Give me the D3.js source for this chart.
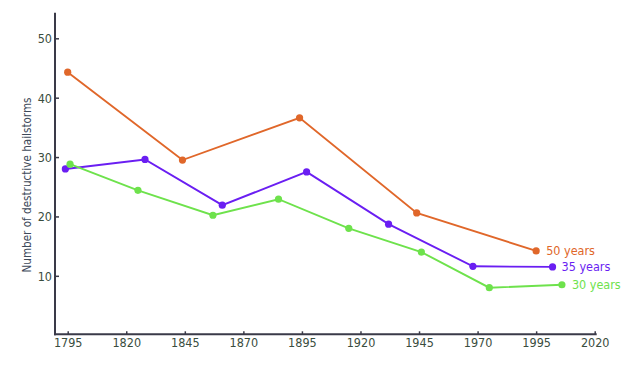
<!DOCTYPE html>
<html><head><meta charset="utf-8">
<script src="https://cdn.jsdelivr.net/npm/d3@7"></script>
<style>body{margin:0;background:#fff}svg{display:block}text{font-family:"DejaVu Sans Condensed","DejaVu Sans",sans-serif}</style>
</head><body>
<svg id="c" width="636" height="370"></svg>
<script>
const xTicks = [1795,1820,1845,1870,1895,1920,1945,1970,1995,2020];
const yTicks = [10,20,30,40,50];
const years50 = [1795,1844,1894,1944,1995];
const vals50  = [44.3,29.5,36.6,20.6,14.2];
const years35 = [1794,1828,1861,1897,1932,1968,2002];
const vals35  = [28.0,29.6,21.9,27.5,18.7,11.6,11.5];
const years30 = [1796,1825,1857,1885,1915,1946,1975,2006];
const vals30  = [28.8,24.4,20.2,22.9,18.0,14.0,8.0,8.5];
const seriesNames = ["50 years","35 years","30 years"];
const colors = ["#e0672a","#6a1ef2","#6ee24c"];

const svg = d3.select("#c");
const x = d3.scaleLinear().domain([1795,2020]).range([67.7,594.7]);
const y = d3.scaleLinear().domain([0,50]).range([335.2,38.3]);
const axisCol = "#3a3a48", textCol = "#3a4d3e";

const yAx = svg.append("g").attr("transform","translate(55,0)")
  .call(d3.axisLeft(y).tickValues(yTicks).tickSize(-4).tickPadding(6).tickFormat(d3.format("d")));
yAx.select(".domain").remove();
const xAx = svg.append("g").attr("transform","translate(0,334.3)")
  .call(d3.axisBottom(x).tickValues(xTicks).tickSize(-3).tickPadding(5).tickFormat(d3.format("d")));
xAx.select(".domain").remove();
[yAx,xAx].forEach(g=>{
  g.selectAll("line").attr("stroke",axisCol).attr("stroke-width",1.5);
  g.selectAll("text").attr("fill",textCol).style("font-size","12.5px").style("font-family",'"DejaVu Sans Condensed",sans-serif');
});
yAx.selectAll("text").attr("x",-3).attr("dy","0.35em");
xAx.selectAll("text").attr("y",4).attr("dy","0.71em");
svg.append("line").attr("x1",55).attr("x2",55).attr("y1",12.7).attr("y2",335.3).attr("stroke",axisCol).attr("stroke-width",2);
svg.append("line").attr("x1",54).attr("x2",596.7).attr("y1",334.3).attr("y2",334.3).attr("stroke",axisCol).attr("stroke-width",2);

svg.append("text").attr("transform","translate(31,185) rotate(-90)")
  .attr("text-anchor","middle").attr("fill","#3e4a5a").style("font-size","11.6px")
  .text("Number of destructive hailstorms");

const series = [[years50,vals50],[years35,vals35],[years30,vals30]];
const line = d3.line().x(d=>x(d[0])).y(d=>y(d[1]));
const labelDx = [10,9,10];
series.forEach(([ys,vs],i)=>{
  const pts = ys.map((yr,j)=>[yr,vs[j]]);
  svg.append("path").datum(pts).attr("d",line).attr("fill","none")
    .attr("stroke",colors[i]).attr("stroke-width",1.9);
  svg.selectAll(null).data(pts).enter().append("circle")
    .attr("cx",d=>x(d[0])).attr("cy",d=>y(d[1])).attr("r",3.6).attr("fill",colors[i]);
  const last = pts[pts.length-1];
  svg.append("text").attr("x",x(last[0])+labelDx[i]).attr("y",y(last[1])).attr("dy","0.35em")
    .attr("fill",colors[i]).style("font-size","12.5px").text(seriesNames[i]);
});
</script>
</body></html>
